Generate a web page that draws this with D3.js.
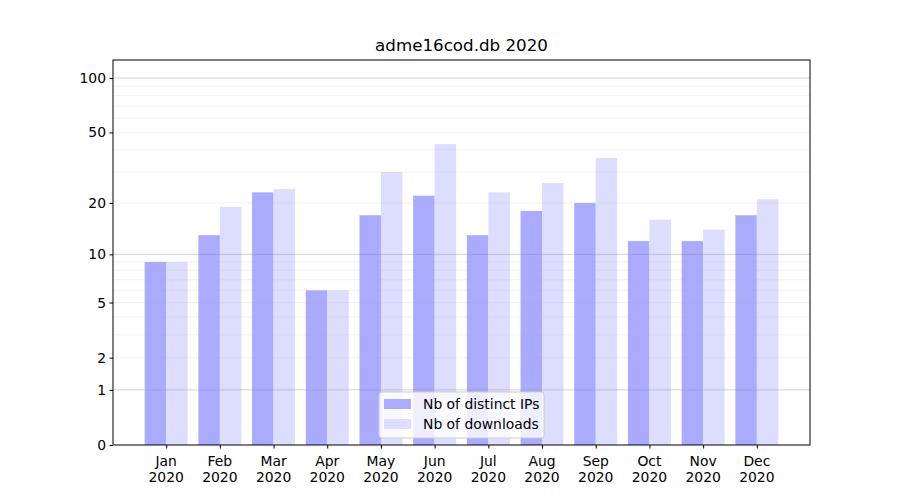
<!DOCTYPE html>
<html><head><meta charset="utf-8">
<script src="https://cdn.jsdelivr.net/npm/d3@7"></script>
<style>body{margin:0;background:#fff;} text{font-family:"DejaVu Sans",sans-serif;}</style>
</head><body><div id="chart"></div>
<script>
const months = ["Jan","Feb","Mar","Apr","May","Jun","Jul","Aug","Sep","Oct","Nov","Dec"];
const yearLabel = "2020";
const distinctIPs = [9,13,23,6,17,22,13,18,20,12,12,17];
const downloads = [9,19,24,6,30,43,23,26,36,16,14,21];
const yTicks = [0,1,2,5,10,20,50,100];
const majorGrid = [1,10,100];
const minorGrid = [2,3,4,5,6,7,8,9,20,30,40,50,60,70,80,90];
const seriesNames = ["Nb of distinct IPs","Nb of downloads"];
const colors = ["#aaaaff","#ddddff"];

const W=900,H=500, m={l:113,r:90,t:60,b:55};
const FS="13.9px";
const svg=d3.select("#chart").append("svg").attr("width",W).attr("height",H);
const x=d3.scaleLinear().domain([-0.99,11.99]).range([m.l,W-m.r]);
const y=d3.scaleSymlog().constant(1).domain([0,125.8]).range([H-m.b,m.t]);
const bw = x(0.4)-x(0);

const g=svg.append("g");
months.forEach((mo,i)=>{
  g.append("rect").attr("x",x(i-0.4)).attr("y",y(distinctIPs[i])).attr("width",bw).attr("height",y(0)-y(distinctIPs[i])).attr("fill",colors[0]);
  g.append("rect").attr("x",x(i)).attr("y",y(downloads[i])).attr("width",bw).attr("height",y(0)-y(downloads[i])).attr("fill",colors[1]);
});
// gridlines on top
svg.append("g").selectAll("line").data(minorGrid).join("line")
  .attr("x1",m.l).attr("x2",W-m.r).attr("y1",d=>y(d)).attr("y2",d=>y(d))
  .attr("stroke","#b0b0b0").attr("stroke-opacity",0.2).attr("stroke-width",0.8);
svg.append("g").selectAll("line").data(majorGrid).join("line")
  .attr("x1",m.l).attr("x2",W-m.r).attr("y1",d=>y(d)).attr("y2",d=>y(d))
  .attr("stroke","#808080").attr("stroke-opacity",0.45).attr("stroke-width",0.8);

// frame
svg.append("rect").attr("x",m.l).attr("y",m.t).attr("width",W-m.r-m.l).attr("height",H-m.b-m.t)
  .attr("fill","none").attr("stroke","#000").attr("stroke-width",1);

// y axis
const ya=svg.append("g").attr("transform",`translate(${m.l},0)`)
  .call(d3.axisLeft(y).tickValues(yTicks).tickFormat(d3.format("d")).tickSize(3.5).tickPadding(3.5));
ya.select(".domain").remove();
ya.selectAll("text").attr("font-size",FS).attr("font-family","DejaVu Sans").attr("fill","#000");
ya.selectAll("line").attr("stroke","#000");

// x axis
const xa=svg.append("g").attr("transform",`translate(0,${H-m.b})`)
  .call(d3.axisBottom(x).tickValues(d3.range(months.length)).tickFormat("").tickSize(3.5));
xa.select(".domain").remove();
xa.selectAll("line").attr("stroke","#000");
months.forEach((mo,i)=>{
  const t=svg.append("text").attr("x",x(i)).attr("text-anchor","middle").attr("font-size",FS).attr("fill","#000");
  t.append("tspan").attr("x",x(i)).attr("y",H-m.b+21).text(mo);
  t.append("tspan").attr("x",x(i)).attr("y",H-m.b+37).text(yearLabel);
});

// title
svg.append("text").attr("x",(m.l+W-m.r)/2).attr("y",m.t-9).attr("text-anchor","middle")
  .attr("font-size","16.7px").attr("fill","#000").text("adme16cod.db 2020");

// legend
const lg=svg.append("g").attr("transform","translate(379,392)");
lg.append("rect").attr("width",165).attr("height",46).attr("rx",3)
  .attr("fill","#fff").attr("fill-opacity",0.8).attr("stroke","#cccccc");
seriesNames.forEach((s,i)=>{
  lg.append("rect").attr("x",5).attr("y",7+i*20).attr("width",27).attr("height",10).attr("fill",colors[i]);
  lg.append("text").attr("x",44).attr("y",17+i*20).attr("font-size",FS).attr("fill","#000").text(s);
});
</script></body></html>
